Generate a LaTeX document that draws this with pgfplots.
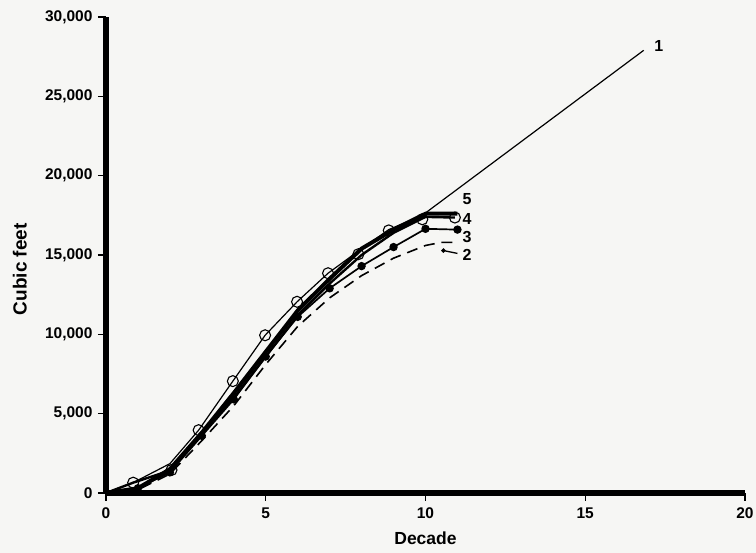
\documentclass[border=0pt]{standalone}
\usepackage{fontspec}
\setmainfont{Liberation Sans}
\usepackage{pgfplots}
\pgfplotsset{compat=1.18}
\definecolor{bgc}{RGB}{246,246,244}
\begin{document}
\begin{tikzpicture}
\fill[bgc] (-106pt,-60pt) rectangle (650pt,493pt);
\begin{axis}[
  at={(0,0)}, anchor=south west, scale only axis, width=639pt, height=476pt,
  xmin=0, xmax=20, ymin=0, ymax=30000,
  axis x line*=bottom, axis y line*=left,
  axis line style={line width=5.5pt, black},
  xtick={0,5,10,15,20}, ytick={0,5000,10000,15000,20000,25000,30000},
  tick align=outside, major tick length=8pt,
  tick style={line width=1.3pt, black},
  /pgf/number format/assume math mode=true,
  /pgf/number format/1000 sep={,},
  scaled y ticks=false,
  ticklabel style={font=\fontsize{15.5}{17}\selectfont\bfseries},
  xticklabel style={yshift=-3pt},
  yticklabel style={xshift=-2pt},
  xlabel={Decade}, ylabel={Cubic feet},
  label style={font=\fontsize{17.5}{20}\selectfont\bfseries},
  xlabel style={at={(axis description cs:0.5,-0.095)}, anchor=center},
  ylabel style={at={(axis description cs:-0.135,0.47)}, anchor=center,
    font=\fontsize{19}{21}\selectfont\bfseries},
  clip=false,
]
% 1: thin line, projected
\addplot[black, line width=1.2pt, no markers] coordinates {
 (0,0) (0.85,650) (2,1850) (2.9,3960) (3.97,7050) (4.98,9940) (5.98,12050)
 (6.95,13850) (7.9,15250) (8.85,16600) (9.9,17500) (16.83,27900)};
% 5: thickest line
\addplot[black, line width=4pt, no markers] coordinates {
 (0,0) (1,300) (2,1500) (3,3800) (4,6300) (5,8900) (6,11500) (7,13500)
 (8,15400) (9,16600) (10,17600) (11,17600)};
% 4: thick line
\addplot[black, line width=2.4pt, no markers] coordinates {
 (0,0) (0.85,650) (2.05,1450) (3,3800) (4,6000) (5,8600) (6,11200) (7,13200)
 (8,15000) (9,16400) (10,17400) (10.92,17360)};
% 3: filled dots
\addplot[black, line width=1.7pt, mark=*, mark size=3.3pt] coordinates {
 (1,300) (2,1300) (3,3600) (4,5900) (5,8600) (6,11100) (7,12900)
 (8,14300) (9,15500) (10,16650) (11,16600)};
\addplot[black, line width=1.7pt, no markers] coordinates {(0,0) (1,300)};
% 2: dashed
\addplot[black, line width=1.6pt, dash pattern=on 11pt off 7pt, no markers] coordinates {
 (0,0) (1,200) (2,1200) (3,3300) (4,5500) (5,8100) (6,10500) (7,12300)
 (8,13700) (9,14800) (10,15600) (10.5,15800) (11,15800)};
% leader of label 2
\addplot[black, line width=1.3pt, mark=*, mark size=1.5pt, mark repeat=2] coordinates {
 (10.56,15280) (11.0,15100)};
% open circles
\addplot[only marks, mark=o, mark size=5.5pt, line width=1.1pt, black,
  mark options={fill=none}] coordinates {
 (0.85,650) (2.05,1450) (2.9,3960) (3.97,7050) (4.98,9940) (5.98,12050)
 (6.95,13850) (7.9,15050) (8.85,16550) (9.9,17250) (10.92,17360)};
\begin{scope}[font=\fontsize{16}{18}\selectfont\bfseries]
\node at (axis cs:17.3,28200) {1};
\node at (axis cs:11.3,18530) {5};
\node at (axis cs:11.3,17270) {4};
\node at (axis cs:11.3,16130) {3};
\node at (axis cs:11.3,15000) {2};
\end{scope}
\end{axis}
\pgfresetboundingbox
\useasboundingbox (-106pt,-60pt) rectangle (650pt,493pt);
\end{tikzpicture}
\end{document}
